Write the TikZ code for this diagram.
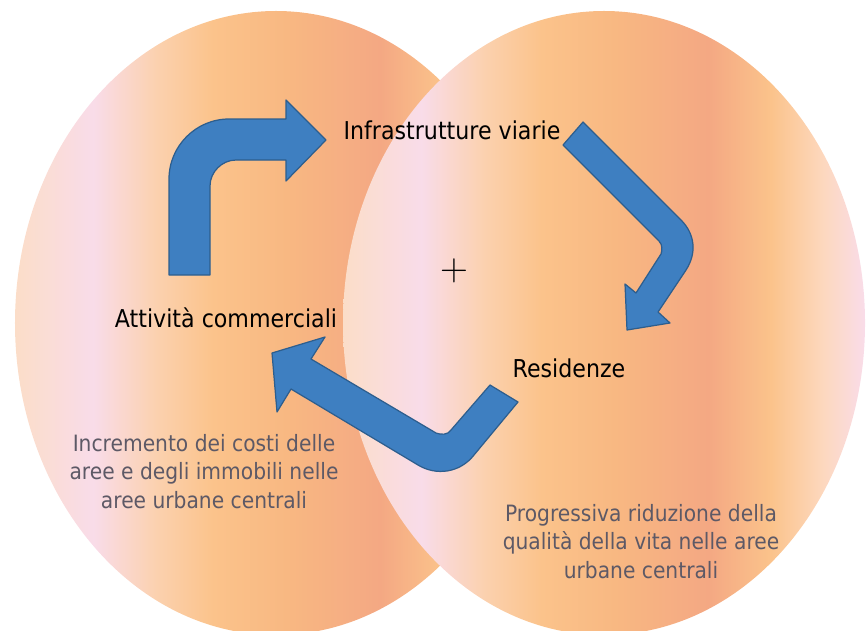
\documentclass[tikz,border=0pt]{standalone}
\usepackage{fontspec}
\newfontfamily\labelfont{DejaVu Sans}[FakeStretch=0.9]
\usetikzlibrary{positioning}

\definecolor{peach}{HTML}{FBDDC8}
\definecolor{blush}{HTML}{F9DCE9}
\definecolor{sand}{HTML}{FBD1AF}
\definecolor{apricot}{HTML}{FBC38B}
\definecolor{tan}{HTML}{F8B882}
\definecolor{salmon}{HTML}{F4A883}
\definecolor{cream}{HTML}{FDD8BE}
\definecolor{arrowblue}{HTML}{3E7FC1}
\definecolor{arrowedge}{HTML}{2D5E8E}
\definecolor{notegray}{HTML}{5D5966}

\pgfdeclarehorizontalshading{lensfill}{100bp}{color(0bp)=(peach); color(25bp)=(peach);
  color(32.5bp)=(blush); color(38.5bp)=(sand); color(44bp)=(apricot); color(51bp)=(tan);
  color(60bp)=(salmon); color(66bp)=(apricot); color(71bp)=(cream); color(75bp)=(blush);
  color(100bp)=(blush)}

\tikzset{
  lens/.style={shading=lensfill},
  blockarrow/.style={fill=arrowblue, draw=arrowedge, line width=0.7pt, line join=round},
  item/.style={font=\labelfont\fontsize{14}{17}\selectfont, text=black, inner sep=0pt},
  note/.style={font=\labelfont\fontsize{12.8}{16}\selectfont, text=notegray, align=center, inner sep=0pt}
}

\begin{document}
\begin{tikzpicture}[x=0.2mm, y=-0.2mm]
    \useasboundingbox (0,0) rectangle (866,630);
    \shade[lens] (276,323) ellipse [x radius=52.2mm, y radius=62.4mm];
    \shade[lens] (604,323) ellipse [x radius=52.2mm, y radius=62.4mm];

    % bent block arrows of the cycle
    \path[blockarrow] (169,275) -- (169,179) .. controls (169,146) and (196,119) .. (229,119) -- (286,119) -- (286,100)
        -- (326,140) -- (286,181) -- (286,160) -- (236,160) .. controls (222,160) and (210,172) .. (210,186) -- (210,275) -- cycle;
    \path[blockarrow] (563,145) -- (659,241) .. controls (663,245) and (662,251) .. (661,254) -- (636,293) -- (625,284)
        -- (627,330) -- (670,323) -- (658,312) -- (686,270) .. controls (697,253) and (695,234) .. (681,220) -- (583,122) -- cycle;
    \path[blockarrow] (490,385) -- (451,430) .. controls (448,435) and (441,435) .. (436,433) -- (311,359) -- (325,337)
        -- (272,353) -- (277,412) -- (291,389) -- (418,465) .. controls (436,476) and (460,473) .. (474,455) -- (518,402) -- cycle;

    \node[item, anchor=base] (roads) at (452,139) {Infrastrutture viarie};
    \node[item, anchor=base] (shops) at (226,327) {Attività commerciali};
    \node[item, anchor=base] (homes) at (569,377) {Residenze};
    \node[font=\fontsize{22}{26}\selectfont, inner sep=0pt] (balance) at (454,271) {+};
    \node[note, anchor=base] (costs) at (204,508) {Incremento dei costi delle\\aree e degli immobili nelle\\aree urbane centrali};
    \node[note, anchor=base] (quality) at (641,578) {Progressiva riduzione della\\qualità della vita nelle aree\\urbane centrali};
\end{tikzpicture}
\end{document}
